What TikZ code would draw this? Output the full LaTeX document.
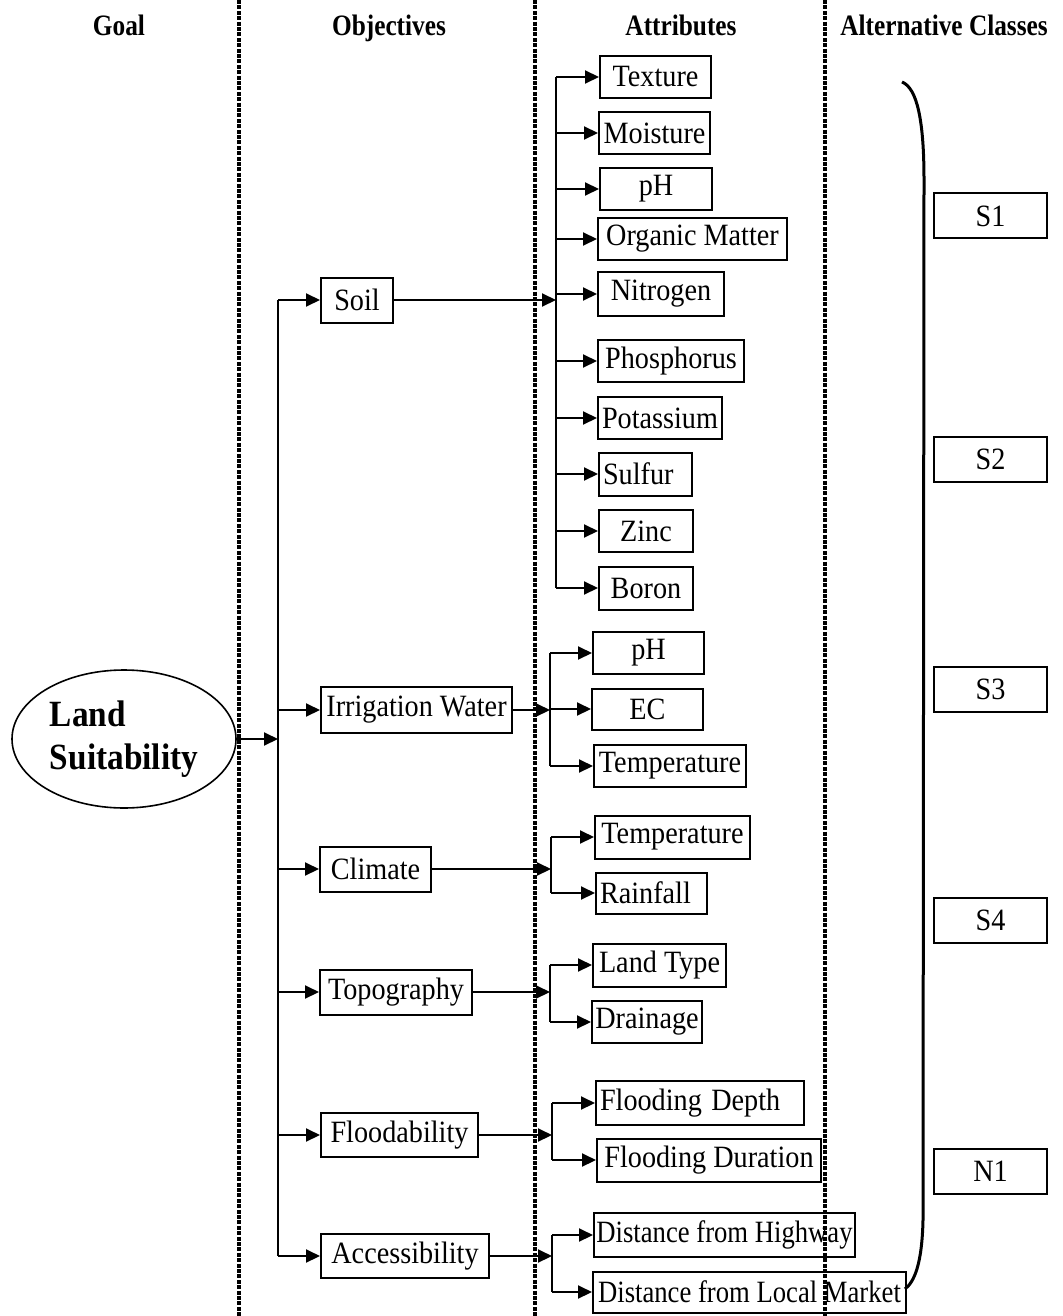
\documentclass[tikz,border=0pt]{standalone}
\usepackage{fontspec}
\setmainfont{Liberation Serif}
\usepackage{graphicx}
\usetikzlibrary{arrows.meta,shapes.geometric}
\newcommand{\rtx}[1]{\scalebox{0.91}[1]{#1}}
\newcommand{\dtx}[1]{\scalebox{0.86}[1]{#1}}
\newcommand{\hdx}[1]{\scalebox{0.855}[1]{#1}}
\newcommand{\bdx}[1]{\scalebox{0.9}[1]{#1}}
\begin{document}
\begin{tikzpicture}[x=0.5pt,y=-0.5pt,
  bx/.style={draw, line width=1pt, inner sep=0pt, anchor=west, font=\fontsize{15.5}{18}\selectfont},
  lbx/.style={bx, align=left, inner xsep=2pt},
  ln/.style={line width=1pt},
  arr/.style={line width=1pt, -{Triangle[length=7pt,width=6.5pt]}},
  sep/.style={line width=1.7pt, dash pattern=on 2pt off 0.7pt},
  hdr/.style={font=\fontsize{14.8}{18}\selectfont\bfseries, anchor=base, inner sep=0pt},
  alt/.style={bx, minimum width=56.5pt, minimum height=22.5pt}
]
\useasboundingbox (0,0) rectangle (1063,1316);

% separators
\draw[sep] (239,0) -- (239,1316);
\draw[sep] (535,0) -- (535,1316);
\draw[sep] (825,0) -- (825,1316);

% headers
\node[hdr] (hG) at (119,36) {\hdx{Goal}};
\node[hdr] (hO) at (389,36) {\hdx{Objectives}};
\node[hdr] (hA) at (681,36) {\hdx{Attributes}};
\node[hdr, anchor=base west] (hC) at (840,36) {\hdx{Alternative Classes}};

% goal
\node[draw, ellipse, line width=0.8pt, minimum width=112pt, minimum height=69pt, inner sep=0pt,
      align=left, font=\fontsize{18.5}{21.5}\selectfont\bfseries] (goal) at (124,739)
      {\bdx{Land}\\\bdx{Suitability}};

% trunk coordinates
\coordinate (mtr) at (278,0);
\coordinate (strunk) at (556,0);
\coordinate (itr) at (550,0);
\coordinate (ctr) at (551,0);
\coordinate (ttr) at (550,0);
\coordinate (ftr) at (552,0);
\coordinate (atr) at (552,0);

% objectives
\node[bx, minimum width=36pt, minimum height=22.5pt] (soil) at (320,300) {\rtx{Soil}};
\node[bx, minimum width=95.5pt, minimum height=23pt] (irr) at (320,710) {\rtx{Irrigation Water}};
\node[bx, minimum width=55.5pt, minimum height=22.5pt] (clim) at (319,869) {\rtx{Climate}};
\node[bx, minimum width=76pt, minimum height=22.5pt] (topo) at (319,992) {\rtx{Topography}};
\node[bx, minimum width=78.5pt, minimum height=22pt] (flood) at (320,1135) {\rtx{Floodability}};
\node[bx, minimum width=84pt, minimum height=22pt] (acc) at (320,1256) {\rtx{Accessibility}};

% soil attributes
\node[bx, minimum width=55.5pt, minimum height=21pt] (tex) at (599,77) {\rtx{Texture}};
\node[bx, minimum width=55.5pt, minimum height=21pt] (moi) at (598,133) {\rtx{Moisture}};
\node[bx, minimum width=56pt, minimum height=21pt] (sph) at (599,189) {\rtx{pH}};
\node[bx, minimum width=94.5pt, minimum height=21pt] (org) at (597,239) {\rtx{Organic Matter}};
\node[bx, minimum width=63pt, minimum height=22pt] (nit) at (597,294) {\rtx{Nitrogen}};
\node[bx, minimum width=73pt, minimum height=21pt] (pho) at (597,361) {\rtx{Phosphorus}};
\node[bx, minimum width=62pt, minimum height=21pt] (pot) at (597,418) {\rtx{Potassium}};
\node[lbx, text width=42.5pt, minimum height=21.5pt] (sul) at (598,474) {\rtx{Sulfur}};
\node[bx, minimum width=47pt, minimum height=21pt] (zin) at (598,531) {\rtx{Zinc}};
\node[bx, minimum width=47pt, minimum height=21.5pt] (bor) at (598,588) {\rtx{Boron}};

% irrigation attributes
\node[bx, minimum width=55.5pt, minimum height=21pt] (iph) at (592,653) {\rtx{pH}};
\node[bx, minimum width=55.5pt, minimum height=20.5pt] (iec) at (591,709) {\rtx{EC}};
\node[bx, minimum width=76pt, minimum height=21pt] (itm) at (593,766) {\rtx{Temperature}};

% climate attributes
\node[bx, minimum width=77.5pt, minimum height=21.5pt] (ctm) at (594,837) {\rtx{Temperature}};
\node[lbx, text width=51.5pt, minimum height=20.5pt] (crf) at (595,893) {\rtx{Rainfall}};

% topography attributes
\node[bx, minimum width=66.5pt, minimum height=21.5pt] (tlt) at (592,965) {\rtx{Land Type}};
\node[bx, minimum width=55pt, minimum height=21pt] (tdr) at (591,1022) {\rtx{Drainage}};

% floodability attributes
\node[lbx, text width=100pt, minimum height=22pt] (fdp) at (595,1103) {\rtx{Flooding Depth}};
\node[bx, minimum width=112pt, minimum height=21.5pt] (fdu) at (596,1160) {\rtx{Flooding Duration}};

% accessibility attributes
\node[bx, minimum width=130.5pt, minimum height=22pt] (dhw) at (593,1235) {\dtx{Distance from Highway}};
\node[bx, minimum width=156.5pt, minimum height=20.5pt] (dlm) at (592,1292) {\dtx{Distance from Local Market}};

% alternative classes
\node[alt] (s1) at (933,216) {\rtx{S1}};
\node[alt] (s2) at (933,459) {\rtx{S2}};
\node[alt] (s3) at (933,689) {\rtx{S3}};
\node[alt] (s4) at (933,920) {\rtx{S4}};
\node[alt] (n1) at (933,1171) {\rtx{N1}};

% goal to objectives
\draw[arr] (goal.east) -- (goal.east -| mtr);
\draw[ln] (soil.west -| mtr) -- (acc.west -| mtr);
\foreach \o in {soil,irr,clim,topo,flood,acc}
  \draw[arr] (\o.west -| mtr) -- (\o.west);

% soil
\draw[ln] (tex.west -| strunk) -- (bor.west -| strunk);
\draw[arr] (soil.east) -- (soil.east -| strunk);
\foreach \a in {tex,moi,sph,org,nit,pho,pot,sul,zin,bor}
  \draw[arr] (\a.west -| strunk) -- (\a.west);

% irrigation
\draw[ln] (iph.west -| itr) -- (itm.west -| itr);
\draw[arr] (irr.east) -- (irr.east -| itr);
\foreach \a in {iph,iec,itm}
  \draw[arr] (\a.west -| itr) -- (\a.west);

% climate
\draw[ln] (ctm.west -| ctr) -- (crf.west -| ctr);
\draw[arr] (clim.east) -- (clim.east -| ctr);
\foreach \a in {ctm,crf}
  \draw[arr] (\a.west -| ctr) -- (\a.west);

% topography
\draw[ln] (tlt.west -| ttr) -- (tdr.west -| ttr);
\draw[arr] (topo.east) -- (topo.east -| ttr);
\foreach \a in {tlt,tdr}
  \draw[arr] (\a.west -| ttr) -- (\a.west);

% floodability
\draw[ln] (fdp.west -| ftr) -- (fdu.west -| ftr);
\draw[arr] (flood.east) -- (flood.east -| ftr);
\foreach \a in {fdp,fdu}
  \draw[arr] (\a.west -| ftr) -- (\a.west);

% accessibility
\draw[ln] (dhw.west -| atr) -- (dlm.west -| atr);
\draw[arr] (acc.east) -- (acc.east -| atr);
\foreach \a in {dhw,dlm}
  \draw[arr] (\a.west -| atr) -- (\a.west);

% bracket
\draw[line width=1.5pt] (902,82) .. controls (917,88) and (924,120) .. (924,180)
  -- (923,1220) .. controls (922,1265) and (914,1282) .. (905,1289);
\end{tikzpicture}
\end{document}
